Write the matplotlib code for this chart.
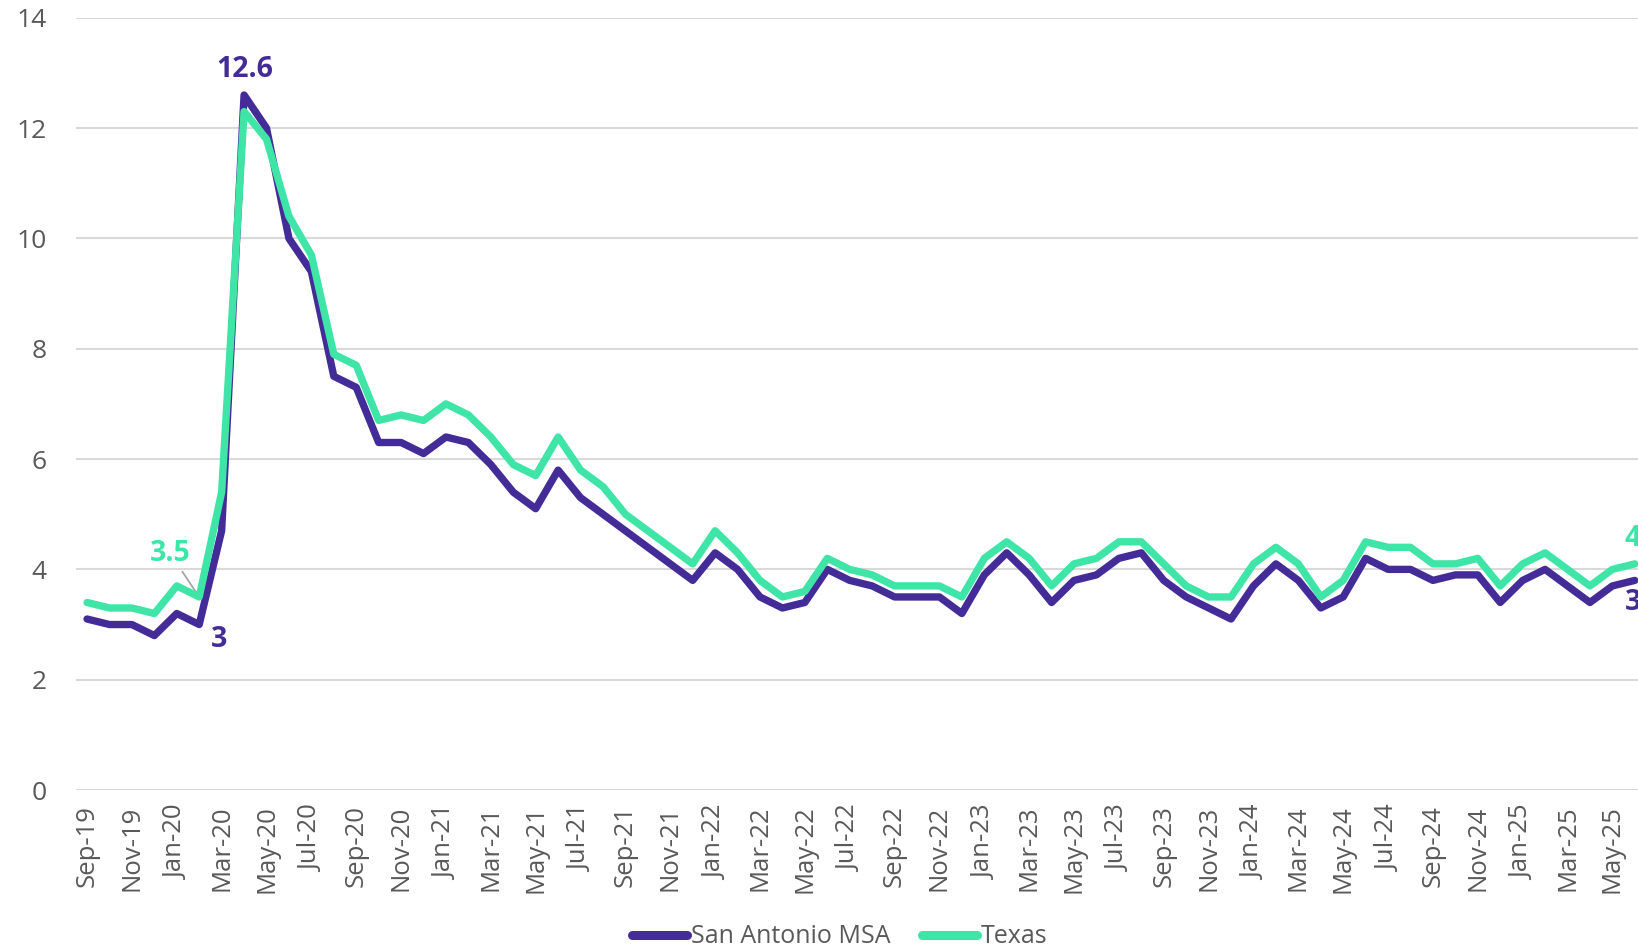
import matplotlib
matplotlib.use("Agg")
import matplotlib.pyplot as plt
from matplotlib.lines import Line2D

# monthly unemployment rate, Sep-19 .. Jun-25
months = ["Sep-19", "Oct-19", "Nov-19", "Dec-19", "Jan-20", "Feb-20", "Mar-20", "Apr-20",
          "May-20", "Jun-20", "Jul-20", "Aug-20", "Sep-20", "Oct-20", "Nov-20", "Dec-20",
          "Jan-21", "Feb-21", "Mar-21", "Apr-21", "May-21", "Jun-21", "Jul-21", "Aug-21",
          "Sep-21", "Oct-21", "Nov-21", "Dec-21", "Jan-22", "Feb-22", "Mar-22", "Apr-22",
          "May-22", "Jun-22", "Jul-22", "Aug-22", "Sep-22", "Oct-22", "Nov-22", "Dec-22",
          "Jan-23", "Feb-23", "Mar-23", "Apr-23", "May-23", "Jun-23", "Jul-23", "Aug-23",
          "Sep-23", "Oct-23", "Nov-23", "Dec-23", "Jan-24", "Feb-24", "Mar-24", "Apr-24",
          "May-24", "Jun-24", "Jul-24", "Aug-24", "Sep-24", "Oct-24", "Nov-24", "Dec-24",
          "Jan-25", "Feb-25", "Mar-25", "Apr-25", "May-25", "Jun-25"]

san_antonio = [3.1, 3.0, 3.0, 2.8, 3.2, 3.0, 4.7, 12.6, 12.0, 10.0, 9.4, 7.5, 7.3, 6.3, 6.3, 6.1,
               6.4, 6.3, 5.9, 5.4, 5.1, 5.8, 5.3, 5.0, 4.7, 4.4, 4.1, 3.8, 4.3, 4.0, 3.5, 3.3,
               3.4, 4.0, 3.8, 3.7, 3.5, 3.5, 3.5, 3.2, 3.9, 4.3, 3.9, 3.4, 3.8, 3.9, 4.2, 4.3,
               3.8, 3.5, 3.3, 3.1, 3.7, 4.1, 3.8, 3.3, 3.5, 4.2, 4.0, 4.0, 3.8, 3.9, 3.9, 3.4,
               3.8, 4.0, 3.7, 3.4, 3.7, 3.8]

texas = [3.4, 3.3, 3.3, 3.2, 3.7, 3.5, 5.4, 12.3, 11.8, 10.4, 9.7, 7.9, 7.7, 6.7, 6.8, 6.7,
         7.0, 6.8, 6.4, 5.9, 5.7, 6.4, 5.8, 5.5, 5.0, 4.7, 4.4, 4.1, 4.7, 4.3, 3.8, 3.5,
         3.6, 4.2, 4.0, 3.9, 3.7, 3.7, 3.7, 3.5, 4.2, 4.5, 4.2, 3.7, 4.1, 4.2, 4.5, 4.5,
         4.1, 3.7, 3.5, 3.5, 4.1, 4.4, 4.1, 3.5, 3.8, 4.5, 4.4, 4.4, 4.1, 4.1, 4.2, 3.7,
         4.1, 4.3, 4.0, 3.7, 4.0, 4.1]

purple = "#442C98"
green = "#3EE5A7"
grey_txt = "#595959"

plt.rcParams["font.family"] = ["Open Sans", "DejaVu Sans"]

fig = plt.figure(figsize=(16.38, 9.5), dpi=100)
# plot area runs a bit past the right edge, like the cropped original
ax = fig.add_axes([0.0463, 0.1684, 0.9586, 0.8129])

x = list(range(len(months)))
ax.plot(x, san_antonio, color=purple, lw=5.3, solid_joinstyle="round", solid_capstyle="round", zorder=3)
ax.plot(x, texas, color=green, lw=5.3, solid_joinstyle="round", solid_capstyle="round", zorder=4)

ax.set_xlim(-0.5, len(months) - 0.5)
ax.set_ylim(0, 14)
ax.set_yticks(range(0, 15, 2))
ax.set_xticks(x[::2])
ax.set_xticklabels(months[::2], rotation=90, fontsize=18.5, color=grey_txt)
for lab in ax.get_yticklabels():
    lab.set_fontsize(19)
    lab.set_color(grey_txt)
ax.tick_params(axis="x", length=0, pad=11)
ax.tick_params(axis="y", length=0, pad=21)
ax.grid(axis="y", color="#D9D9D9", lw=1.5)
ax.set_axisbelow(True)
for s in ax.spines.values():
    s.set_visible(False)

lab_font = dict(fontsize=20.5, fontweight="bold")
ax.annotate("12.6", xy=(7, san_antonio[7]), xytext=(0.7, 18), textcoords="offset points",
            ha="center", va="center", color=purple, **lab_font)
ax.annotate("3", xy=(5, san_antonio[5]), xytext=(14.4, -11), textcoords="offset points",
            ha="center", va="center", color=purple, **lab_font)
ax.annotate("3.5", xy=(5, texas[5]), xytext=(-21, 31.5), textcoords="offset points",
            ha="center", va="center", color=green,
            arrowprops=dict(arrowstyle="-", color="#A6A6A6", lw=1.3, shrinkA=1, shrinkB=1), **lab_font)
ax.annotate(f"{texas[-1]}", xy=(69, texas[-1]), xytext=(-7.5, 18.5), textcoords="offset points",
            ha="left", va="center", color=green, annotation_clip=False, **lab_font)
ax.annotate(f"{san_antonio[-1]}", xy=(69, san_antonio[-1]), xytext=(-7, -16), textcoords="offset points",
            ha="left", va="center", color=purple, annotation_clip=False, **lab_font)

handles = [Line2D([], [], color=purple, lw=6.5, solid_capstyle="round"),
           Line2D([], [], color=green, lw=6.5, solid_capstyle="round")]
fig.legend(handles, ["San Antonio MSA", "Texas"], loc="center", bbox_to_anchor=(0.5125, 0.0137),
           ncol=2, frameon=False, handlelength=2.2, handletextpad=0.15, columnspacing=1.25,
           prop={"size": 18}, labelcolor=grey_txt)

fig.savefig("out.png", dpi=100)
